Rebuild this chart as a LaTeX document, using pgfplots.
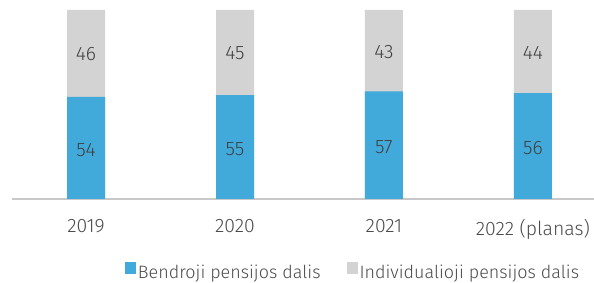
\documentclass[border=0pt]{standalone}
\usepackage{pgfplots}
\pgfplotsset{compat=1.18}
\usepackage{fontspec}
\setmainfont{Fira Sans}[UprightFont=* Light]
\definecolor{cblue}{HTML}{42AADB}
\definecolor{cgray}{HTML}{D3D3D3}
\definecolor{ctext}{HTML}{404040}
\definecolor{clabel}{HTML}{4A4A4A}
\definecolor{caxis}{HTML}{C8C8C8}
\begin{document}
\begin{tikzpicture}
\path[use as bounding box] (0,0) rectangle (594bp,283bp);
\begin{axis}[
  at={(12bp,84bp)}, anchor=south west,
  width=582bp, height=189bp, scale only axis,
  xmin=-0.497, xmax=3.41, ymin=0, ymax=100,
  axis y line=none, axis x line*=bottom,
  x axis line style={draw=caxis, line width=1.2pt, -},
  xtick={0,1,2,3}, xticklabels={2019,2020,2021,2022 (planas)},
  major tick length=0pt,
  xticklabel style={font=\fontsize{19.5}{22}\selectfont, text=clabel, yshift=-17bp},
  legend columns=2,
  legend style={draw=none, fill=none, at={(0.586,-0.385)}, anchor=center,
    font=\fontsize{18}{21}\selectfont, text=clabel,
    /tikz/every even column/.append style={column sep=24bp}},
  legend image code/.code={\fill[#1] (0bp,-2bp) rectangle (11bp,10bp);},
]
\addplot[ybar, bar width=38bp, fill=cgray, draw=none, forget plot] coordinates {(0,100) (1,100) (2,100) (3,100)};
\addplot[ybar, bar width=38bp, fill=cblue, draw=none, forget plot] coordinates {(0,54) (1,55) (2,57) (3,56)};
\addplot[draw=none, mark=none, forget plot, nodes near coords, point meta=explicit symbolic,
  nodes near coords align=center,
  every node near coord/.append style={anchor=center, font=\fontsize{19.5}{22}\selectfont, text=ctext}]
  coordinates {(0,26)[54] (1,26.5)[55] (2,27.5)[57] (3,27)[56]};
\addplot[draw=none, mark=none, forget plot, nodes near coords, point meta=explicit symbolic,
  nodes near coords align=center,
  every node near coord/.append style={anchor=center, font=\fontsize{19.5}{22}\selectfont, text=ctext}]
  coordinates {(0,76.5)[46] (1,77)[45] (2,78)[43] (3,77.5)[44]};
\addlegendimage{fill=cblue, draw=none}
\addlegendentry{Bendroji pensijos dalis}
\addlegendimage{fill=cgray, draw=none}
\addlegendentry{Individualioji pensijos dalis}
\end{axis}
\end{tikzpicture}
\end{document}
